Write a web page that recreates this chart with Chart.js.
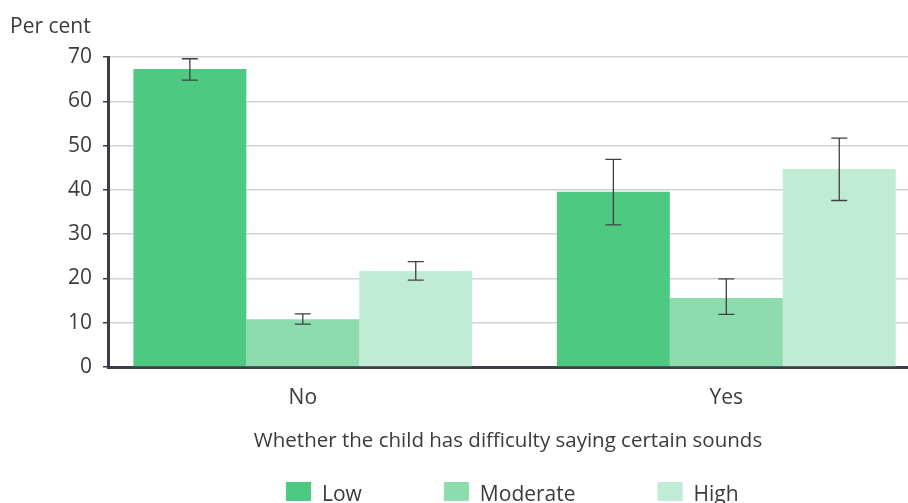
<!DOCTYPE html>
<html>
<head>
<meta charset="utf-8">
<script src="https://cdn.jsdelivr.net/npm/chart.js@4.4.1/dist/chart.umd.min.js"></script>
<style>
  html, body { margin: 0; padding: 0; background: #ffffff; }
  #wrap { width: 908px; height: 503px; position: relative; }
</style>
</head>
<body>
<div id="wrap"><canvas id="chart"></canvas></div>
<script>
// Categories and series
const categories = ['No', 'Yes'];
const seriesNames = ['Low', 'Moderate', 'High'];
const seriesColors = ['#4ec982', '#8ddcae', '#c0ecd6'];

// Per cent of children in each group
const lowValues = [67.3, 39.6];
const moderateValues = [10.8, 15.6];
const highValues = [21.7, 44.7];

// Confidence intervals (lower, upper)
const lowLower = [64.8, 32.1];
const lowUpper = [69.6, 46.9];
const moderateLower = [9.7, 11.9];
const moderateUpper = [12.0, 19.9];
const highLower = [19.6, 37.6];
const highUpper = [23.8, 51.7];

// Y axis ticks
const yTicks = [0, 10, 20, 30, 40, 50, 60, 70];

const FONT = '"Open Sans", "Noto Sans", sans-serif';
const TEXT = '#3b3b3f';
const AXIS = '#3d3d45';

const intervals = [
  { lower: lowLower, upper: lowUpper },
  { lower: moderateLower, upper: moderateUpper },
  { lower: highLower, upper: highUpper }
];

// Whisker drawing for each bar
const errorBars = {
  id: 'errorBars',
  afterDatasetsDraw(chart) {
    const ctx = chart.ctx;
    const y = chart.scales.y;
    ctx.save();
    ctx.strokeStyle = '#404046';
    ctx.lineWidth = 1.3;
    chart.data.datasets.forEach((ds, i) => {
      const meta = chart.getDatasetMeta(i);
      meta.data.forEach((bar, j) => {
        const x = bar.x;
        const yl = y.getPixelForValue(intervals[i].lower[j]);
        const yu = y.getPixelForValue(intervals[i].upper[j]);
        const cap = 8;
        ctx.beginPath();
        ctx.moveTo(x, yu); ctx.lineTo(x, yl);
        ctx.moveTo(x - cap, yu); ctx.lineTo(x + cap, yu);
        ctx.moveTo(x - cap, yl); ctx.lineTo(x + cap, yl);
        ctx.stroke();
      });
    });
    ctx.restore();
  }
};

// Unit caption above the value axis, and legend row under the chart
const captions = {
  id: 'captions',
  afterDraw(chart) {
    const ctx = chart.ctx;
    ctx.save();
    ctx.fillStyle = TEXT;
    ctx.font = '21px ' + FONT;
    ctx.textBaseline = 'alphabetic';
    ctx.textAlign = 'left';
    ctx.fillText('Per cent', 10, 33);

    ctx.font = '21px ' + FONT;
    let x = 286;
    chart.data.datasets.forEach((ds) => {
      ctx.fillStyle = ds.backgroundColor;
      ctx.fillRect(x, 482, 25, 19);
      ctx.fillStyle = TEXT;
      ctx.fillText(ds.label, x + 36, 501);
      x += 36 + ctx.measureText(ds.label).width + 82;
    });
    ctx.restore();
  }
};

new Chart(document.getElementById('chart'), {
  type: 'bar',
  data: {
    labels: categories,
    datasets: [
      { label: seriesNames[0], data: lowValues, backgroundColor: seriesColors[0] },
      { label: seriesNames[1], data: moderateValues, backgroundColor: seriesColors[1] },
      { label: seriesNames[2], data: highValues, backgroundColor: seriesColors[2] }
    ]
  },
  options: {
    responsive: true,
    maintainAspectRatio: false,
    animation: false,
    layout: { padding: { top: 57, right: 0, bottom: 40, left: 0 } },
    datasets: { bar: { categoryPercentage: 0.8, barPercentage: 1.0, borderWidth: 0 } },
    plugins: {
      legend: { display: false },
      tooltip: { enabled: false }
    },
    scales: {
      x: {
        grid: { display: false, drawTicks: false },
        border: { display: true, color: AXIS, width: 3 },
        ticks: { color: TEXT, font: { family: FONT, size: 21 }, padding: 18 },
        title: {
          display: true,
          text: 'Whether the child has difficulty saying certain sounds',
          color: TEXT,
          font: { family: FONT, size: 20.5 },
          padding: { top: 14, bottom: 10 }
        },
        afterBuildTicks(scale) {
          // place the two category groups within the axis width
          scale._valueRange = 1.889;
          scale._startValue = -0.46;
        },
        afterFit(scale) { scale.height = 96; }
      },
      y: {
        min: 0,
        max: 70,
        afterBuildTicks(scale) { scale.ticks = yTicks.map(v => ({ value: v })); },
        grid: { color: '#d2d2d9', lineWidth: 1.5, tickColor: AXIS, tickLength: 5, tickWidth: 1.5 },
        border: { display: true, color: AXIS, width: 3 },
        ticks: { color: TEXT, font: { family: FONT, size: 21 }, padding: 11 },
        afterFit(scale) { scale.width = 108; }
      }
    }
  },
  plugins: [errorBars, captions]
});
</script>
</body>
</html>
